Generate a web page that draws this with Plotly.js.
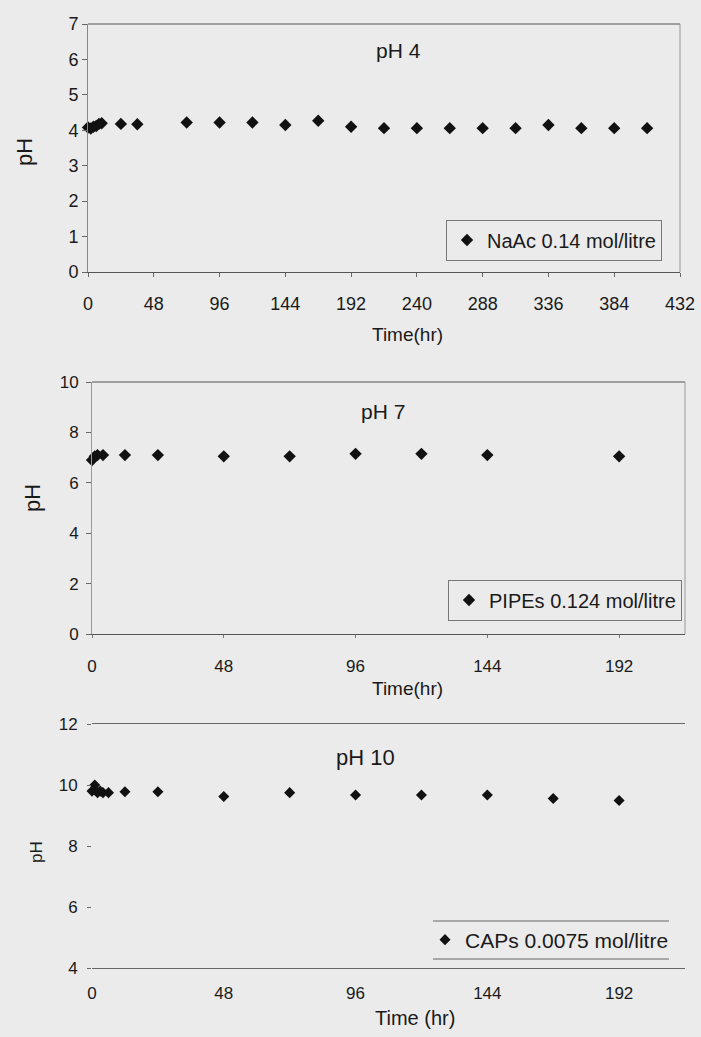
<!DOCTYPE html>
<html>
<head>
<meta charset="utf-8">
<script src="https://cdn.plot.ly/plotly-2.35.2.min.js"></script>
<style>html,body{margin:0;padding:0;background:#ebebeb;}#chart{width:701px;height:1037px;}</style>
</head>
<body>
<div id="chart"></div>
<script>
// Panel 1: pH 4, NaAc
const time1 = [0,2,4,6,8,10,24,36,72,96,120,144,168,192,216,240,264,288,312,336,360,384,408];
const ph1   = [4.08,4.05,4.1,4.12,4.18,4.2,4.18,4.17,4.22,4.22,4.22,4.15,4.27,4.1,4.06,4.06,4.06,4.06,4.06,4.15,4.06,4.06,4.06];
// Panel 2: pH 7, PIPEs
const time2 = [0,1,2,4,12,24,48,72,96,120,144,192];
const ph2   = [6.9,7.05,7.1,7.1,7.1,7.1,7.05,7.05,7.15,7.15,7.1,7.05];
// Panel 3: pH 10, CAPs
const time3 = [0,1,2,3,4,6,12,24,48,72,96,120,144,168,192];
const ph3   = [9.8,10.0,9.75,9.8,9.75,9.75,9.78,9.78,9.62,9.75,9.67,9.67,9.67,9.56,9.49];

const xticks1 = [0,48,96,144,192,240,288,336,384,432];
const xticks23 = [0,48,96,144,192];
const names = ['NaAc 0.14 mol/litre','PIPEs 0.124 mol/litre','CAPs 0.0075 mol/litre'];
const titles = ['pH 4','pH 7','pH 10'];
const xTitles = ['Time(hr)','Time(hr)','Time (hr)'];

const W = 701, H = 1037;
const px = v => v / W;
const py = v => 1 - v / H;
const FONT = 'Liberation Sans, Arial, sans-serif';
const INK = '#1a1a1a';

const mk = (s) => ({symbol: 'diamond', size: s, color: '#111'});
const traces = [
  {x: time1, y: ph1, xaxis: 'x', yaxis: 'y', type: 'scatter', mode: 'markers', name: names[0], marker: mk(9.5), cliponaxis: false, legend: 'legend'},
  {x: time2, y: ph2, xaxis: 'x2', yaxis: 'y2', type: 'scatter', mode: 'markers', name: names[1], marker: mk(9.5), cliponaxis: false, legend: 'legend2'},
  {x: time3, y: ph3, xaxis: 'x3', yaxis: 'y3', type: 'scatter', mode: 'markers', name: names[2], marker: mk(8.5), cliponaxis: false, legend: 'legend3'}
];

const baseX = {showgrid: false, zeroline: false, showline: true, linecolor: '#555', linewidth: 1,
  tickfont: {family: FONT, size: 17, color: INK}, tickmode: 'array'};
const baseY = {showgrid: false, zeroline: false, showline: true, linecolor: '#888', linewidth: 1,
  ticks: 'outside', ticklen: 5, tickcolor: '#666', tickfont: {family: FONT, size: 17, color: INK}};

const legBase = {bgcolor: 'rgba(0,0,0,0)', bordercolor: '#777', borderwidth: 1,
  font: {family: FONT, size: 20, color: INK}, itemwidth: 30, orientation: 'v'};

const layout = {
  width: W, height: H,
  margin: {l: 0, r: 0, t: 0, b: 0},
  paper_bgcolor: '#ebebeb', plot_bgcolor: '#ebebeb',
  font: {family: FONT, color: INK},
  showlegend: true,
  xaxis: Object.assign({}, baseX, {domain: [px(88), px(680)], range: [0, 432], tickvals: xticks1,
    ticks: 'outside', ticklen: 4, tickcolor: '#666', anchor: 'y', ticklabelstandoff: 11,
    tickfont: {family: FONT, size: 18, color: INK}}),
  yaxis: Object.assign({}, baseY, {domain: [py(272), py(24)], range: [0, 7], dtick: 1, anchor: 'x',
    tickfont: {family: FONT, size: 18, color: INK}}),
  xaxis2: Object.assign({}, baseX, {domain: [px(92), px(685)], range: [0, 216], tickvals: xticks23,
    ticks: 'outside', ticklen: 3, tickcolor: '#777', anchor: 'y2', ticklabelstandoff: 14}),
  yaxis2: Object.assign({}, baseY, {domain: [py(634), py(382)], range: [0, 10], dtick: 2, anchor: 'x2',
    linecolor: '#999', ticklabelstandoff: 4}),
  xaxis3: Object.assign({}, baseX, {domain: [px(92), px(685)], range: [0, 216], tickvals: xticks23,
    ticks: '', mirror: true, anchor: 'y3', ticklabelstandoff: 10, linecolor: '#666'}),
  yaxis3: Object.assign({}, baseY, {domain: [py(968), py(724)], range: [4, 12], tickvals: [4,6,8,10,12],
    showline: false, ticklen: 4, anchor: 'x3', ticklabelstandoff: 6}),
  legend: Object.assign({}, legBase, {x: px(662), xanchor: 'right', y: py(240), yanchor: 'middle'}),
  legend2: Object.assign({}, legBase, {x: px(682), xanchor: 'right', y: py(600), yanchor: 'middle'}),
  legend3: Object.assign({}, legBase, {x: px(674), xanchor: 'right', y: py(940), yanchor: 'middle', borderwidth: 0,
    font: {family: FONT, size: 21, color: INK}}),
  shapes: [
    // panel 1 frame (top and right)
    {type: 'line', xref: 'paper', yref: 'paper', x0: px(88), x1: px(680), y0: py(24), y1: py(24), line: {color: '#555', width: 1}},
    {type: 'line', xref: 'paper', yref: 'paper', x0: px(680), x1: px(680), y0: py(24), y1: py(272), line: {color: '#999', width: 1}},
    // panel 2 frame (top and right)
    {type: 'line', xref: 'paper', yref: 'paper', x0: px(92), x1: px(685), y0: py(382), y1: py(382), line: {color: '#555', width: 1}},
    {type: 'line', xref: 'paper', yref: 'paper', x0: px(685), x1: px(685), y0: py(382), y1: py(634), line: {color: '#999', width: 1}},
    // panel 3 legend rules
    {type: 'line', xref: 'paper', yref: 'paper', x0: px(433), x1: px(669), y0: py(921), y1: py(921), line: {color: '#666', width: 1}},
    {type: 'line', xref: 'paper', yref: 'paper', x0: px(433), x1: px(669), y0: py(959), y1: py(959), line: {color: '#666', width: 1}}
  ],
  annotations: [
    {text: titles[0], xref: 'paper', yref: 'paper', x: px(398), y: py(50), showarrow: false, xanchor: 'center', yanchor: 'middle', font: {family: FONT, size: 21, color: INK}},
    {text: titles[1], xref: 'paper', yref: 'paper', x: px(383), y: py(412), showarrow: false, xanchor: 'center', yanchor: 'middle', font: {family: FONT, size: 21, color: INK}},
    {text: titles[2], xref: 'paper', yref: 'paper', x: px(365), y: py(757), showarrow: false, xanchor: 'center', yanchor: 'middle', font: {family: FONT, size: 22, color: INK}},
    {text: xTitles[0], xref: 'paper', yref: 'paper', x: px(407), y: py(335), showarrow: false, xanchor: 'center', yanchor: 'middle', font: {family: FONT, size: 19, color: INK}},
    {text: xTitles[1], xref: 'paper', yref: 'paper', x: px(407), y: py(688), showarrow: false, xanchor: 'center', yanchor: 'middle', font: {family: FONT, size: 19, color: INK}},
    {text: xTitles[2], xref: 'paper', yref: 'paper', x: px(415), y: py(1018), showarrow: false, xanchor: 'center', yanchor: 'middle', font: {family: FONT, size: 20, color: INK}},
    {text: 'pH', xref: 'paper', yref: 'paper', x: px(24), y: py(152), showarrow: false, textangle: -90, xanchor: 'center', yanchor: 'middle', font: {family: FONT, size: 22, color: INK}},
    {text: 'pH', xref: 'paper', yref: 'paper', x: px(32), y: py(498), showarrow: false, textangle: -90, xanchor: 'center', yanchor: 'middle', font: {family: FONT, size: 22, color: INK}},
    {text: 'pH', xref: 'paper', yref: 'paper', x: px(36), y: py(852), showarrow: false, textangle: -90, xanchor: 'center', yanchor: 'middle', font: {family: FONT, size: 17, color: INK}}
  ]
};

Plotly.newPlot('chart', traces, layout, {displayModeBar: false, staticPlot: true});
</script>
</body>
</html>
